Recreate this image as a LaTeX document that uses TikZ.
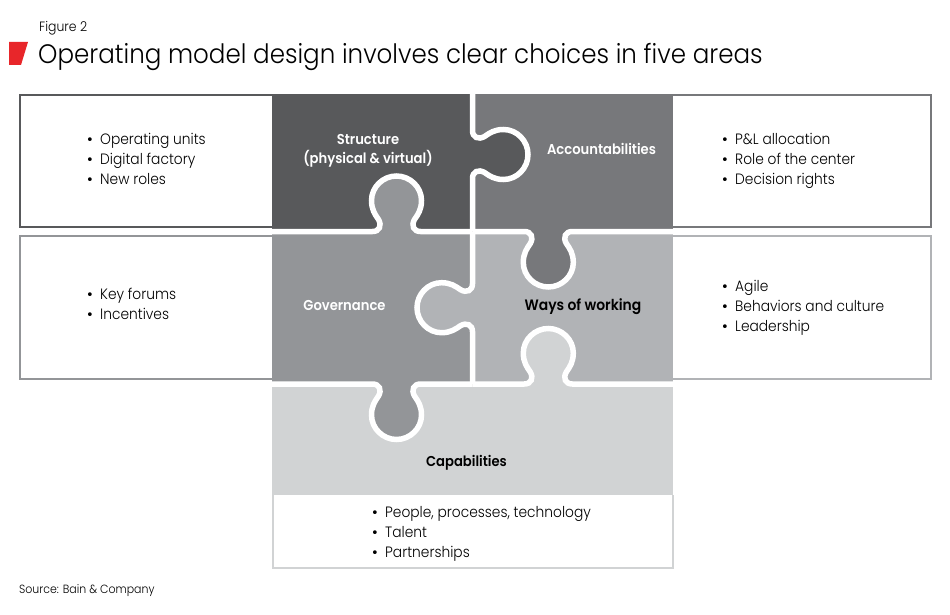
\documentclass[tikz,border=0pt]{standalone}
\usepackage{fontspec}
\setmainfont{Poppins}[UprightFont=* Light,BoldFont=* SemiBold,FakeStretch=0.92]
\newfontfamily\bulletfont{DejaVu Sans}
\definecolor{cA}{HTML}{58595B}
\definecolor{cB}{HTML}{77787B}
\definecolor{cC}{HTML}{939598}
\definecolor{cD}{HTML}{B1B3B6}
\definecolor{cE}{HTML}{D1D3D4}
\definecolor{cR}{HTML}{E8262A}
\newcommand\tabcurve{(0,-24) .. controls (0,-17) and (6,-14.5) .. (12,-18) .. controls (17,-21.5) and (22,-25) .. (31,-25) .. controls (44.5,-25) and (55.5,-13.5) .. (55.5,0) .. controls (55.5,13.5) and (44.5,25) .. (31,25) .. controls (22,25) and (17,21.5) .. (12,18) .. controls (6,14.5) and (0,17) .. (0,24)}
% #1 position, #2 local axes, #3 fill, #4 and #5 lengths of straight edge either side
\newcommand\puzzletab[5]{%
  \begin{scope}[shift={#1},#2]
    \fill[#3] \tabcurve -- (-1.5,24) -- (-1.5,-24) -- cycle;
    \draw[seam] (0,-#4) -- \tabcurve -- (0,#5);
  \end{scope}}
\newcommand\itm[1]{\strut\makebox[13pt][l]{\kern-1pt{\bulletfont\fontsize{13}{20}\selectfont •}}#1}
\begin{document}
\begin{tikzpicture}[x={(1pt,0)},y={(0,-1pt)},
  seam/.style={white,line width=5.5pt},
  toright/.style={x={(1pt,0)},y={(0,-1pt)}},
  toleft/.style={x={(-1pt,0)},y={(0,-1pt)}},
  toup/.style={x={(0,1pt)},y={(1pt,0)}},
  todown/.style={x={(0,-1pt)},y={(1pt,0)}},
  frame/.style={line width=2pt,fill=white},
  listtext/.style={anchor=west,inner sep=0pt,align=left,font=\fontsize{15}{20}\selectfont},
  piecetext/.style={inner sep=0pt,align=center,font=\bfseries\fontsize{14.3}{20}\selectfont}]
\useasboundingbox (0,0) rectangle (950,615);
\fill[white] (0,0) rectangle (950,615);
% frames
\draw[frame,draw=cA] (272,95) -- (20,95) -- (20,226.5) -- (272,226.5);
\draw[frame,draw=cB] (673,95) -- (930.5,95) -- (930.5,226.5) -- (673,226.5);
\draw[frame,draw=cC] (272,236) -- (20,236) -- (20,379) -- (272,379);
\draw[frame,draw=cD] (673,236) -- (930.5,236) -- (930.5,379) -- (673,379);
\draw[frame,draw=cE] (272.5,495) -- (272.5,568) -- (672.5,568) -- (672.5,495);
% pieces
\fill[cA] (272,94) rectangle (472.5,231.5);
\fill[cB] (472.5,94) rectangle (673,231.5);
\fill[cC] (272,231.5) rectangle (472.5,384);
\fill[cD] (472.5,231.5) rectangle (673,384);
\fill[cE] (272,384) rectangle (673,495);
% seams and tabs
\puzzletab{(472.5,154.5)}{toright}{cA}{61}{77}
\puzzletab{(472.5,307.7)}{toleft}{cD}{76.2}{76.3}
\puzzletab{(396.5,231.5)}{toup}{cC}{124.5}{76}
\puzzletab{(548.3,231.5)}{todown}{cB}{75.8}{124.7}
\puzzletab{(396.5,384)}{todown}{cC}{124.5}{76}
\puzzletab{(548.3,384)}{toup}{cE}{75.8}{124.7}
% labels
\node[piecetext,text=white] (structure) at (368,150) {\strut Structure\\\strut(physical \& virtual)};
\node[piecetext,text=white,anchor=base] (account) at (601.5,154) {Accountabilities};
\node[piecetext,text=white,anchor=base] (govern) at (344.5,310) {Governance};
\node[piecetext,text=black,anchor=base,font=\bfseries\fontsize{15.1}{20}\selectfont] (ways) at (583,310) {Ways of working};
\node[piecetext,text=black,anchor=base] (capab) at (466.5,466) {Capabilities};
% lists
\node[listtext] (l1) at (87,160) {\itm{Operating units}\\\itm{Digital factory}\\\itm{New roles}};
\node[listtext] (l2) at (722,160) {\itm{P\&L allocation}\\\itm{Role of the center}\\\itm{Decision rights}};
\node[listtext] (l3) at (87,305) {\itm{Key forums}\\\itm{Incentives}};
\node[listtext] (l4) at (722,307) {\itm{Agile}\\\itm{Behaviors and culture}\\\itm{Leadership}};
\node[listtext] (l5) at (372,533) {\itm{People, processes, technology}\\\itm{Talent}\\\itm{Partnerships}};
% header
\fill[cR] (9,42) -- (28,42) -- (21,65) -- (9,65) -- cycle;
\node[anchor=base west,inner sep=0pt,font=\fontsize{13.5}{14}\selectfont] (fig) at (39,32) {Figure 2};
\node[anchor=base west,inner sep=0pt,font=\fontsize{26.7}{30}\selectfont] (title) at (38,64) {Operating model design involves clear choices in five areas};
\node[anchor=base west,inner sep=0pt,font=\fontsize{11.9}{14}\selectfont] (src) at (19,593) {Source: Bain \& Company};
\end{tikzpicture}
\end{document}
